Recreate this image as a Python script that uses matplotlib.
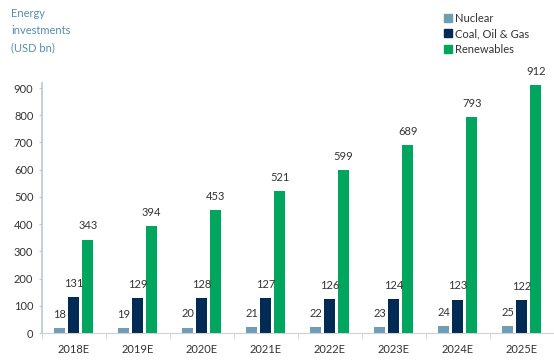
import matplotlib
matplotlib.use("Agg")
import matplotlib.pyplot as plt
import numpy as np
from matplotlib.patches import Patch

categories = ["2018E", "2019E", "2020E", "2021E", "2022E", "2023E", "2024E", "2025E"]
nuclear = [18, 19, 20, 21, 22, 23, 24, 25]
fossil = [131, 129, 128, 127, 126, 124, 123, 122]
renewables = [343, 394, 453, 521, 599, 689, 793, 912]
series_names = ["Nuclear", "Coal, Oil & Gas", "Renewables"]
colors = ["#6F9DB3", "#002B54", "#00A65D"]

plt.rcParams['font.family'] = ['Lato', 'DejaVu Sans']

fig = plt.figure(figsize=(5.54, 3.60), dpi=100)
ax = fig.add_axes([0.0753, 0.075, 0.924, 0.6956])

x = np.arange(len(categories))
w = 0.172
off = 0.219
for vals, dx, c in zip([nuclear, fossil, renewables], [-off, 0, off], colors):
    ax.bar(x + dx, vals, width=w, color=c, zorder=2)
    for xi, v in zip(x + dx, vals):
        ax.text(xi, v + 30, str(v), ha='center', va='bottom', fontsize=8, color='#333333')

ax.set_xlim(-0.5, len(categories) - 0.5)
ax.set_ylim(0, 920)
ax.set_yticks(range(0, 901, 100))
ax.tick_params(axis='y', labelsize=8, colors='#333333', length=2.5, color='#B8C8D4', pad=3.5)
ax.set_xticks(x)
ax.set_xticklabels(categories)
ax.tick_params(axis='x', labelsize=8, colors='#333333', length=0, pad=8)
ax.set_xticks(np.arange(-0.5, len(categories), 1), minor=True)
ax.tick_params(axis='x', which='minor', length=4, color='#D0D0D0')
for s in ['top', 'right']:
    ax.spines[s].set_visible(False)
ax.spines['left'].set_color('#B8C8D4')
ax.spines['left'].set_linewidth(1.2)
ax.spines['bottom'].set_color('#D0D0D0')

fig.text(0.02, 0.977, "Energy\ninvestments\n(USD bn)", ha='left', va='top', fontsize=8,
         color='#5A8DAA', linespacing=1.65)

handles = [Patch(color=c) for c in colors]
fig.legend(handles, series_names, loc='upper left', bbox_to_anchor=(0.783, 0.993), frameon=False,
           fontsize=8, handlelength=0.7, handleheight=0.7, handletextpad=0.3, labelspacing=0.42,
           labelcolor='#333333')

fig.savefig("out.png", dpi=100)
